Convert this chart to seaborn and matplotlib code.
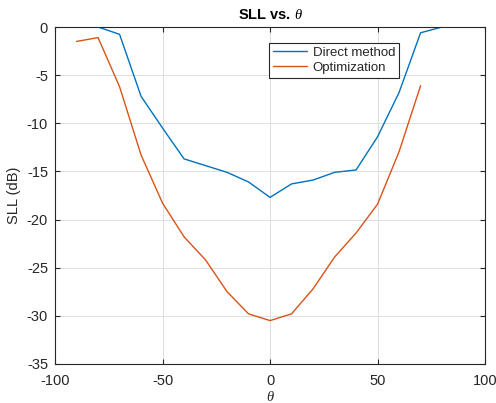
import numpy as np
import pandas as pd
import matplotlib
matplotlib.use("Agg")
import matplotlib.pyplot as plt
import seaborn as sns

theta_direct = [-90, -80, -70, -60, -50, -40, -30, -20, -10, 0, 10, 20, 30, 40, 50, 60, 70, 80, 90]
sll_direct = [0.0, 0.0, -0.76, -7.2, -10.5, -13.7, -14.4, -15.1, -16.1, -17.7, -16.3, -15.9, -15.1, -14.85, -11.4, -6.8, -0.6, 0.0, 0.0]
theta_opt = [-90, -80, -70, -60, -50, -40, -30, -20, -10, 0, 10, 20, 30, 40, 50, 60, 70]
sll_opt = [-1.5, -1.1, -6.2, -13.3, -18.3, -21.8, -24.2, -27.5, -29.8, -30.5, -29.8, -27.2, -23.9, -21.4, -18.4, -12.95, -6.1]
series_names = ["Direct method", "Optimization"]
colors = ["#0072BD", "#D95319"]

df = pd.concat([
    pd.DataFrame({"theta": theta_direct, "sll": sll_direct, "series": series_names[0]}),
    pd.DataFrame({"theta": theta_opt, "sll": sll_opt, "series": series_names[1]}),
])

sns.set_style("ticks")
plt.rcParams["font.family"] = ["Liberation Sans", "DejaVu Sans"]
plt.rcParams["axes.unicode_minus"] = False
plt.rcParams["mathtext.fontset"] = "custom"
plt.rcParams["mathtext.it"] = "Liberation Serif:italic"
plt.rcParams["mathtext.bf"] = "Liberation Sans:bold"

fig = plt.figure(figsize=(4.96, 4.03), dpi=100)
ax = fig.add_axes([0.111, 0.097, 0.867, 0.836])

sns.lineplot(data=df, x="theta", y="sll", hue="series", palette=colors, ax=ax,
             linewidth=1.0, legend=True)

ax.set_xlim(-100, 100)
ax.set_ylim(-35, 0)
ax.set_xticks([-100, -50, 0, 50, 100])
ax.set_yticks([-35, -30, -25, -20, -15, -10, -5, 0])
ax.grid(True, color="#dddddd", linewidth=0.7)
ax.set_axisbelow(True)
for s in ax.spines.values():
    s.set_visible(True)
    s.set_color("#262626")
    s.set_linewidth(0.8)
ax.tick_params(direction="in", top=True, right=True, length=3.5, width=0.8,
               labelsize=10.5, colors="#262626")
ax.tick_params(axis="x", pad=7)
ax.tick_params(axis="y", pad=5)
ax.set_xlabel(r"$\theta$", fontsize=10.5, color="#262626", labelpad=2)
ax.set_ylabel("SLL (dB)", fontsize=10.5, color="#262626", labelpad=4)
ax.set_title(r"SLL vs. $\theta$", fontsize=10.5, fontweight="bold", color="black", pad=6)

handles, labels = ax.get_legend_handles_labels()
leg = ax.legend(handles, labels, loc="upper left",
                bbox_to_anchor=(269 / 496, 1 - 42.7 / 403), bbox_transform=fig.transFigure,
                frameon=True, fancybox=False, fontsize=9.5, borderpad=0.3,
                labelspacing=0.2, handlelength=2.6, handletextpad=0.4, borderaxespad=0)
leg.get_frame().set_edgecolor("#262626")
leg.get_frame().set_linewidth(0.8)
leg.get_frame().set_alpha(1)

fig.savefig("out.png", dpi=100)
